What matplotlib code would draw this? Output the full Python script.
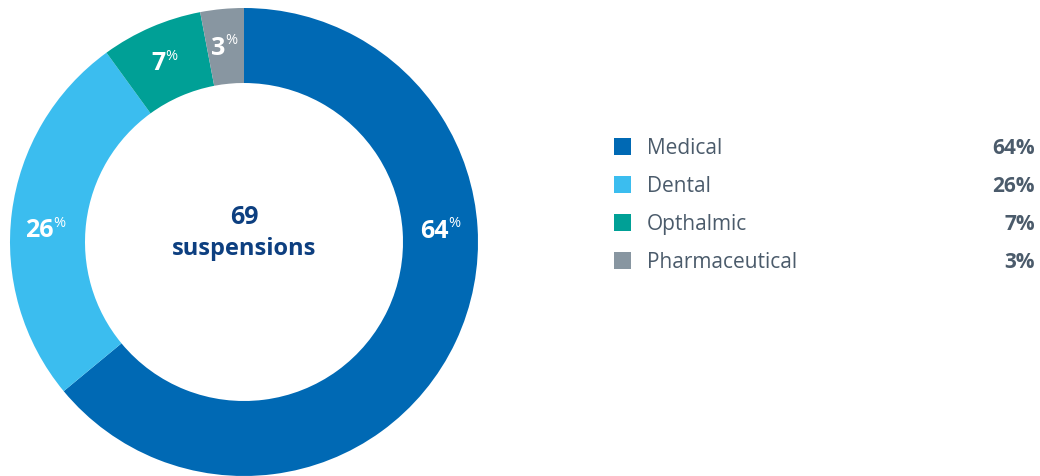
import matplotlib.pyplot as plt
import numpy as np
from matplotlib.patches import Rectangle

categories = ['Medical', 'Dental', 'Opthalmic', 'Pharmaceutical']
shares = [64, 26, 7, 3]
colors = ['#0069b4', '#3bbdef', '#00a096', '#8896a1']
total_label = '69'
total_text = 'suspensions'

plt.rcParams['font.family'] = ['Open Sans', 'DejaVu Sans']

W, H = 1040, 477
fig = plt.figure(figsize=(W / 100, H / 100), dpi=100)
ax = fig.add_axes([0, 0, 1, 1])

cx, cy = 244, H - 243
R = 234
ring = 75

wedges, _ = ax.pie(shares, colors=colors, startangle=90, counterclock=False,
                   center=(cx, cy), radius=R, frame=True,
                   wedgeprops=dict(width=ring, linewidth=0))
ax.set_xlim(0, W)
ax.set_ylim(0, H)
ax.axis('off')

# ring labels: mid-angle by default, first two moved by hand like the original
lab_pos = {0: (4, 205), 1: (175.5, 191)}
for i, w in enumerate(wedges):
    ang, r = lab_pos.get(i, ((w.theta1 + w.theta2) / 2, 198))
    x = cx + r * np.cos(np.radians(ang))
    y = cy + r * np.sin(np.radians(ang))
    ax.text(x, y - 9, str(shares[i]), color='white', fontsize=18, fontweight='bold',
            ha='right', va='baseline')
    ax.text(x - 0.5, y + 1.5, '%', color='white', fontsize=10.5,
            ha='left', va='baseline')

# centre text
ax.text(cx, H - 224, total_label, color='#0d3f80', fontsize=18, fontweight='bold',
        ha='center', va='baseline')
ax.text(cx, H - 255, total_text, color='#0d3f80', fontsize=17, fontweight='bold',
        ha='center', va='baseline')

# legend
txt = '#4b5b6b'
for i, name in enumerate(categories):
    yc = H - (147 + 38 * i)
    ax.add_patch(Rectangle((614, yc - 8.5), 17, 17, color=colors[i], lw=0))
    ax.text(647, yc - 7.5, name, color=txt, fontsize=15, ha='left', va='baseline')
    ax.text(1035, yc - 7.5, f'{shares[i]}%', color=txt, fontsize=15,
            fontweight='bold', ha='right', va='baseline')

fig.savefig('out.png', dpi=100)
